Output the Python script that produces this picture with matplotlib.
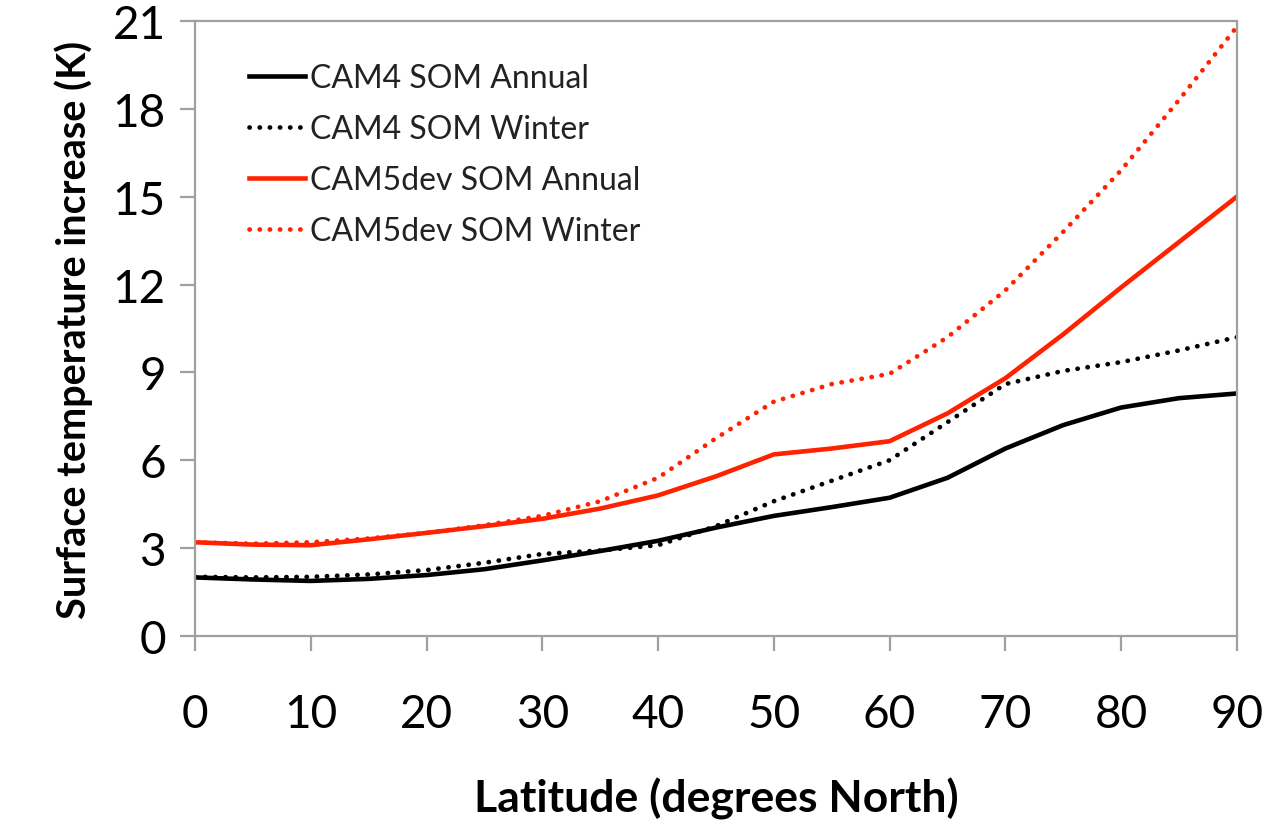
import matplotlib.pyplot as plt

# Latitude (degrees North)
lat = [0, 5, 10, 15, 20, 25, 30, 35, 40, 45, 50, 55, 60, 65, 70, 75, 80, 85, 90]

# Surface temperature increase (K)
cam4_annual = [2.0, 1.93, 1.88, 1.95, 2.08, 2.28, 2.58, 2.9, 3.25, 3.7, 4.1, 4.4,
               4.72, 5.4, 6.4, 7.2, 7.8, 8.12, 8.28]
cam4_winter = [2.02, 2.0, 2.02, 2.1, 2.25, 2.5, 2.8, 2.92, 3.1, 3.75, 4.6, 5.3,
               6.0, 7.3, 8.6, 9.05, 9.35, 9.75, 10.2]
cam5_annual = [3.2, 3.12, 3.1, 3.3, 3.52, 3.75, 4.0, 4.35, 4.8, 5.45, 6.2, 6.4,
               6.65, 7.6, 8.8, 10.3, 11.9, 13.45, 15.0]
cam5_winter = [3.2, 3.15, 3.2, 3.33, 3.52, 3.78, 4.1, 4.6, 5.4, 6.75, 8.0, 8.6,
               8.95, 10.2, 11.8, 13.8, 15.9, 18.3, 20.8]

xticks = [0, 10, 20, 30, 40, 50, 60, 70, 80, 90]
yticks = [0, 3, 6, 9, 12, 15, 18, 21]

plt.rcParams['font.family'] = ['Lato', 'DejaVu Sans']

fig = plt.figure(figsize=(12.66, 8.29), dpi=100)
ax = fig.add_axes([0.154, 0.2316, 0.823, 0.742])

red = '#ff2200'
dot = (0, (0.05, 2.1))
ax.plot(lat, cam4_annual, color='black', lw=3.3, label='CAM4 SOM Annual')
ax.plot(lat, cam4_winter, color='black', lw=3.4, linestyle=dot,
        dash_capstyle='round', label='CAM4 SOM Winter')
ax.plot(lat, cam5_annual, color=red, lw=3.3, label='CAM5dev SOM Annual')
ax.plot(lat, cam5_winter, color=red, lw=3.4, linestyle=dot,
        dash_capstyle='round', label='CAM5dev SOM Winter')

ax.set_xlim(0, 90)
ax.set_ylim(0, 21)
ax.set_xticks(xticks)
ax.set_yticks(yticks)

for s in ax.spines.values():
    s.set_color('#a0a0a0')
    s.set_linewidth(1.6)

ax.tick_params(axis='x', direction='out', length=11, width=1.6, color='#a0a0a0',
               labelsize=33, pad=30)
ax.tick_params(axis='y', direction='out', length=11, width=1.6, color='#a0a0a0',
               labelsize=33, pad=10)

ax.set_xlabel('Latitude (degrees North)', fontsize=32, fontweight='bold', labelpad=30)
ax.set_ylabel('Surface temperature increase (K)', fontsize=28.5, fontweight='bold',
              labelpad=14)

leg = ax.legend(loc='upper left', bbox_to_anchor=(0.04, 0.952), frameon=False,
                fontsize=23, handlelength=1.75, handletextpad=0.15,
                labelspacing=0.66, borderaxespad=0)
for t in leg.get_texts():
    t.set_color('#222222')

fig.savefig('out.png', dpi=100)
